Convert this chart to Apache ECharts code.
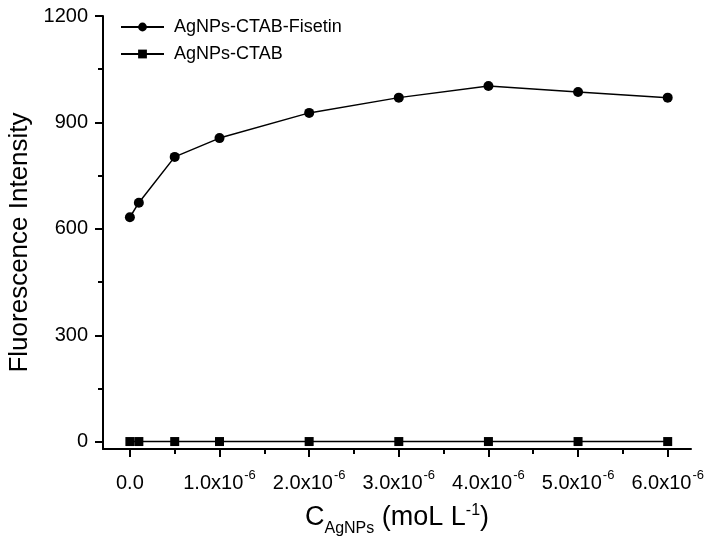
<!DOCTYPE html>
<html>
<head>
<meta charset="utf-8">
<script src="https://cdn.jsdelivr.net/npm/echarts@6/dist/echarts.min.js"></script>
<style>html,body{margin:0;padding:0;background:#fff}#c{width:708px;height:537px}</style>
</head>
<body>
<div id="c"></div>
<script>
// Data (concentration in mol/L)
const concentrations = [0, 1e-7, 5e-7, 1e-6, 2e-6, 3e-6, 4e-6, 5e-6, 6e-6];
const fisetinValues = [633, 674, 803, 856, 927, 970, 1003, 986, 970];
const ctabValues = [1, 1, 1, 1, 1, 1, 1, 1, 1];
const xMajorTicks = [0, 1e-6, 2e-6, 3e-6, 4e-6, 5e-6, 6e-6];
const xMinorTicks = [0.5e-6, 1.5e-6, 2.5e-6, 3.5e-6, 4.5e-6, 5.5e-6];
const yMajorTicks = [0, 300, 600, 900, 1200];
const yMinorTicks = [150, 450, 750, 1050];
const seriesNames = ['AgNPs-CTAB-Fisetin', 'AgNPs-CTAB'];

const FONT = 'Arial, "Liberation Sans", sans-serif';
const X_MIN = -0.3e-6, X_MAX = 6.26e-6, Y_MIN = -20, Y_MAX = 1200;

function xLabel(v) {
  const m = v / 1e-6;
  if (Math.abs(m) < 1e-9) return '{a|0.0}';
  return '{a|' + m.toFixed(1) + 'x10}{s|-6}';
}

const gridRect = { left: 103, right: 17, top: 16, bottom: 88, containLabel: false, outerBoundsMode: 'none' };
const axisLS = { color: '#000', width: 2 };

const chart = echarts.init(document.getElementById('c'), null, { renderer: 'canvas' });
chart.setOption({
  backgroundColor: '#fff',
  animation: false,
  grid: [Object.assign({}, gridRect), Object.assign({}, gridRect)],
  legend: {
    orient: 'vertical',
    left: 120,
    top: 18,
    padding: 0,
    itemWidth: 43,
    itemHeight: 11,
    itemGap: 9,
    data: seriesNames,
    textStyle: { fontFamily: FONT, fontSize: 18, color: '#000', lineHeight: 18, padding: [0, 0, 0, 5] }
  },
  xAxis: [{
    type: 'value', gridIndex: 0, min: X_MIN, max: X_MAX, position: 'bottom',
    axisLine: { show: true, onZero: false, lineStyle: axisLS },
    axisTick: { show: true, inside: false, length: 8, customValues: xMajorTicks, lineStyle: axisLS },
    axisLabel: {
      show: true, customValues: xMajorTicks, margin: 20, formatter: xLabel,
      rich: {
        a: { fontFamily: FONT, fontSize: 20, color: '#000', lineHeight: 24, verticalAlign: 'bottom' },
        s: { fontFamily: FONT, fontSize: 13, color: '#000', lineHeight: 13, verticalAlign: 'top', padding: [0, 0, 0, 1] }
      }
    },
    splitLine: { show: false },
    name: '{c|C}{sub|AgNPs}{c| (moL L}{sup|-1}{c|)}',
    nameLocation: 'middle',
    nameGap: 49,
    nameTextStyle: {
      rich: {
        c: { fontFamily: FONT, fontSize: 27, color: '#000', lineHeight: 40, verticalAlign: 'middle' },
        sub: { fontFamily: FONT, fontSize: 16, color: '#000', lineHeight: 40, verticalAlign: 'middle', padding: [22, 0, 0, 0] },
        sup: { fontFamily: FONT, fontSize: 16, color: '#000', lineHeight: 40, verticalAlign: 'middle', padding: [0, 0, 14, 0] }
      }
    }
  }, {
    type: 'value', gridIndex: 1, min: X_MIN, max: X_MAX, position: 'bottom',
    axisLine: { show: false, onZero: false },
    axisTick: { show: true, inside: false, length: 5, customValues: xMinorTicks, lineStyle: axisLS },
    axisLabel: { show: false },
    splitLine: { show: false }
  }],
  yAxis: [{
    type: 'value', gridIndex: 0, min: Y_MIN, max: Y_MAX, position: 'left',
    axisLine: { show: true, onZero: false, lineStyle: axisLS },
    axisTick: { show: true, inside: false, length: 8, customValues: yMajorTicks, lineStyle: axisLS },
    axisLabel: { show: true, customValues: yMajorTicks, margin: 15, fontFamily: FONT, fontSize: 20, color: '#000', formatter: v => String(v) },
    splitLine: { show: false },
    name: 'Fluorescence Intensity',
    nameLocation: 'middle',
    nameGap: 70,
    nameTextStyle: { fontFamily: FONT, fontSize: 26, color: '#000', padding: [0, 20, 0, 0] }
  }, {
    type: 'value', gridIndex: 1, min: Y_MIN, max: Y_MAX, position: 'left',
    axisLine: { show: false, onZero: false },
    axisTick: { show: true, inside: false, length: 5, customValues: yMinorTicks, lineStyle: axisLS },
    axisLabel: { show: false },
    splitLine: { show: false }
  }],
  series: [{
    name: seriesNames[0], type: 'line', xAxisIndex: 0, yAxisIndex: 0,
    data: concentrations.map((c, i) => [c, fisetinValues[i]]),
    symbol: 'circle', symbolSize: 10,
    itemStyle: { color: '#000' },
    lineStyle: { color: '#000', width: 1.5 }
  }, {
    name: seriesNames[1], type: 'line', xAxisIndex: 0, yAxisIndex: 0,
    data: concentrations.map((c, i) => [c, ctabValues[i]]),
    symbol: 'rect', symbolSize: 9,
    itemStyle: { color: '#000' },
    lineStyle: { color: '#000', width: 1.5 }
  }]
});
</script>
</body>
</html>
